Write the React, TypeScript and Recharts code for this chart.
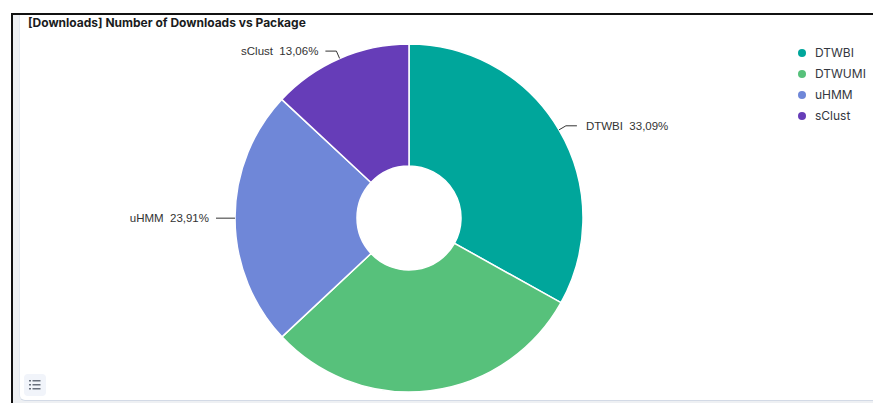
import React from "react";
import { PieChart, Pie, Cell, Legend } from "recharts";

const packages = ["DTWBI", "DTWUMI", "uHMM", "sClust"];
const shares = [33.09, 29.94, 23.91, 13.06];
const colors = ["#00a69b", "#57c17b", "#6f87d8", "#663db8"];

const data = packages.map((name, i) => ({ name, value: shares[i] }));

const RAD = Math.PI / 180;

function renderLabel(props: any) {
  const { cx, cy, midAngle, outerRadius, percent, name } = props;
  const cos = Math.cos(-midAngle * RAD);
  const sin = Math.sin(-midAngle * RAD);
  const x0 = cx + outerRadius * cos;
  const y0 = cy + outerRadius * sin;
  const x1 = cx + (outerRadius + 8) * cos;
  const y1 = cy + (outerRadius + 8) * sin;
  // labels that would fall outside the panel are dropped
  if (y1 > 380) return null;
  const right = cos >= 0;
  const x2 = x1 + (right ? 11 : -11);
  const tx = x2 + (right ? 9 : -7);
  const pct = (percent * 100).toFixed(2).replace(".", ",");
  return (
    <g>
      <polyline
        points={`${x0},${y0} ${x1},${y1} ${x2},${y1}`}
        fill="none"
        stroke="#333"
        strokeWidth={1}
      />
      <text
        x={tx}
        y={y1}
        textAnchor={right ? "start" : "end"}
        dominantBaseline="central"
        fontSize={11.5}
        fontFamily="'Liberation Sans', Arial, sans-serif"
        fill="#333"
        style={{ whiteSpace: "pre" }}
      >
        {`${name}  ${pct}%`}
      </text>
    </g>
  );
}

function LegendList() {
  return (
    <div style={{ fontFamily: "Inter, sans-serif", fontSize: 12, color: "#343741" }}>
      {packages.map((p, i) => (
        <div key={p} style={{ display: "flex", alignItems: "center", height: 21 }}>
          <span
            style={{
              width: 8,
              height: 8,
              borderRadius: 4,
              background: colors[i],
              marginRight: 9,
            }}
          />
          {p}
        </div>
      ))}
    </div>
  );
}

export default function App() {
  return (
    <div style={{ position: "absolute", left: 0, top: 0, width: 873, height: 403, overflow: "hidden", background: "#fff" }}>
      <div
        style={{
          position: "absolute",
          left: 11,
          top: 13,
          width: 900,
          height: 392,
          borderTop: "2px solid #111",
          borderLeft: "2px solid #111",
          background: "#eef0f3",
        }}
      >
        <div
          style={{
            position: "absolute",
            left: 6,
            top: 0,
            width: 880,
            height: 385,
            background: "#fff",
            borderBottom: "1px solid #d3dae6",
            borderLeft: "1px solid #e3e8f0",
            borderBottomLeftRadius: 6,
          }}
        />
      </div>
      <div
        style={{
          position: "absolute",
          left: 28,
          top: 15,
          fontFamily: "Inter, sans-serif",
          fontWeight: 700,
          fontSize: 12,
          color: "#1a1c21",
          lineHeight: "16px",
        }}
      >
        [Downloads] Number of Downloads vs Package
      </div>
      <div style={{ position: "absolute", left: 0, top: 0 }}>
        <PieChart width={873} height={403}>
          <Pie
            data={data}
            dataKey="value"
            nameKey="name"
            cx={404}
            cy={213}
            innerRadius={52}
            outerRadius={174}
            startAngle={90}
            endAngle={-270}
            stroke="#fff"
            strokeWidth={1.5}
            label={renderLabel}
            labelLine={false}
            isAnimationActive={false}
          >
            {data.map((d, i) => (
              <Cell key={d.name} fill={colors[i]} />
            ))}
          </Pie>
          <Legend
            layout="vertical"
            align="right"
            verticalAlign="top"
            content={() => <LegendList />}
            wrapperStyle={{ left: 798, top: 42, width: 70 }}
          />
        </PieChart>
      </div>
      <div
        style={{
          position: "absolute",
          left: 24,
          top: 374,
          width: 22,
          height: 22,
          borderRadius: 4,
          background: "#f1f4fa",
        }}
      >
        <svg width={22} height={22}>
          {[7, 11, 15].map((y) => (
            <g key={y} fill="#69707d">
              <rect x={5} y={y - 1} width={2} height={1.5} />
              <rect x={8.5} y={y - 1} width={8} height={1.5} />
            </g>
          ))}
        </svg>
      </div>
    </div>
  );
}
